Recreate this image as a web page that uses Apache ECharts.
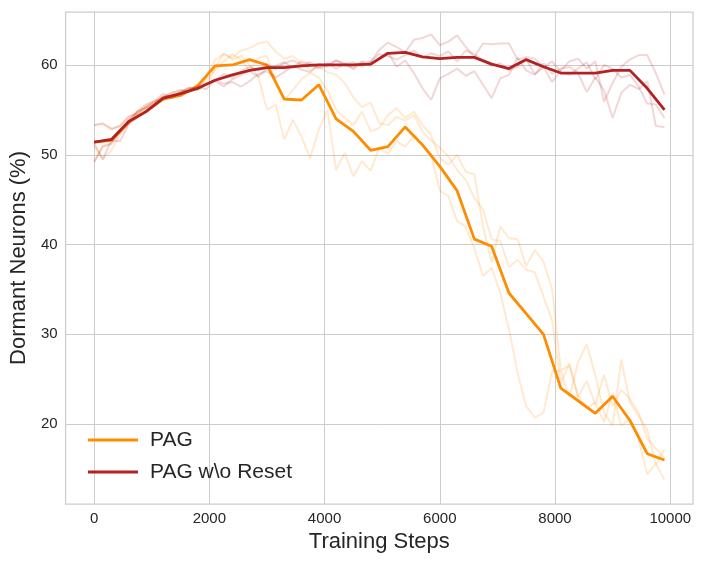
<!DOCTYPE html>
<html>
<head>
<meta charset="utf-8">
<script src="https://cdn.jsdelivr.net/npm/echarts@6/dist/echarts.min.js"></script>
<style>
  html, body { margin: 0; padding: 0; background: #fff; }
  #chart { width: 705px; height: 564px; }
</style>
</head>
<body>
<div id="chart"></div>
<script>
// steps of the averaged curves (every 300) and of the single runs (every 150)
var mainSteps = [];
for (var i = 0; i < 34; i++) mainSteps.push(i * 300);
var runSteps = [];
for (var j = 0; j < 67; j++) runSteps.push(j * 150);

var xTicks = [0, 2000, 4000, 6000, 8000, 10000];
var yTicks = [20, 30, 40, 50, 60];

// PAG (mean curve)
var pagMean = [51.4, 51.6, 53.6, 54.8, 56.2, 56.6, 57.7, 59.9, 60.0, 60.6,
  60.0, 56.2, 56.1, 57.8, 54.0, 52.6, 50.5, 50.9, 53.1, 51.1,
  48.7, 46.0, 40.6, 39.8, 34.6, 32.3, 30.0, 24.0, 22.6, 21.2,
  23.1, 20.4, 16.7, 16.0];

// PAG w\o Reset (mean curve)
var noResetMean = [51.4, 51.7, 53.7, 54.8, 56.3, 56.8, 57.4, 58.3, 58.9, 59.4,
  59.7, 59.7, 59.9, 60.0, 60.0, 60.0, 60.1, 61.3, 61.4, 60.9,
  60.7, 60.85, 60.85, 60.1, 59.6, 60.6, 59.8, 59.1, 59.1, 59.1,
  59.4, 59.4, 57.4, 55.0];

// PAG single runs
var pagRun1 = [53.3, 53.4, 52.8, 53.2, 54.3, 54.6, 55.3, 55.9, 56.5, 56.9,
  57.2, 57.0, 57.8, 58.6, 60.6, 61.2, 60.8, 61.6, 61.9, 62.4,
  62.6, 61.5, 60.7, 61.0, 60.2, 59.4, 59.8, 59.2, 58.9, 58.0,
  56.4, 55.3, 55.8, 53.5, 53.3, 54.2, 53.8, 54.4, 52.6, 51.6,
  50.8, 49.8, 48.3, 47.2, 45.2, 43.9, 40.6, 40.4, 37.5, 38.3,
  37.2, 36.9, 34.2, 31.5, 24.5, 26.8, 23.0, 24.8, 22.2, 25.5,
  22.0, 23.8, 22.8, 21.3, 18.4, 17.3, 16.2];
var pagRun2 = [49.2, 51.0, 51.3, 52.6, 53.8, 54.9, 55.4, 56.0, 56.3, 56.6,
  57.0, 57.4, 57.3, 57.9, 59.6, 61.3, 60.6, 61.0, 60.0, 58.7,
  55.0, 55.6, 51.7, 53.9, 52.0, 49.6, 52.8, 55.0, 48.3, 50.2,
  47.6, 49.3, 48.2, 50.8, 50.1, 51.5, 50.9, 52.2, 51.0, 50.0,
  46.0, 45.4, 42.6, 42.0, 39.6, 36.5, 37.4, 34.6, 30.6, 25.7,
  22.0, 20.7, 21.3, 25.9, 25.9, 23.0, 26.9, 28.9, 25.4, 21.3,
  19.8, 27.2, 22.4, 20.9, 19.4, 15.5, 17.2];
var pagRun3 = [51.0, 49.5, 50.5, 52.2, 53.5, 54.5, 55.2, 55.6, 56.4, 56.7,
  56.8, 57.3, 57.5, 58.4, 59.4, 60.4, 61.2, 60.6, 59.4, 60.8,
  61.0, 58.3, 56.1, 57.2, 58.4, 59.1, 58.6, 57.2, 55.0, 54.1,
  53.3, 54.8, 52.6, 53.0, 54.4, 55.2, 54.1, 54.8, 53.3, 52.2,
  49.6, 48.9, 50.0, 48.1, 47.8, 42.0, 38.0, 42.0, 40.7, 40.6,
  37.6, 39.4, 38.1, 35.0, 26.0, 26.5, 23.1, 21.8, 22.4, 20.2,
  23.5, 19.8, 20.6, 18.4, 14.4, 15.6, 13.8];

// PAG w\o Reset single runs
var noResetRun1 = [53.3, 53.5, 52.9, 53.2, 54.2, 54.6, 55.3, 55.9, 56.4, 56.9,
  57.2, 57.1, 57.6, 57.9, 58.2, 57.6, 58.4, 58.9, 59.3, 58.7,
  59.6, 59.9, 60.3, 59.7, 60.4, 60.1, 59.6, 60.0, 60.5, 60.0,
  59.7, 60.4, 60.3, 61.7, 62.5, 62.0, 61.4, 62.8, 63.0, 63.4,
  62.2, 62.6, 63.3, 62.0, 60.9, 62.4, 62.3, 62.4, 62.4, 60.6,
  60.9, 60.7, 59.8, 58.1, 59.4, 60.4, 60.7, 59.6, 60.4, 55.9,
  58.0, 59.8, 60.6, 61.1, 61.1, 59.1, 56.7];
var noResetRun2 = [51.3, 49.5, 51.6, 51.5, 53.4, 54.8, 55.6, 56.0, 56.8, 56.3,
  57.0, 57.5, 57.2, 57.9, 58.3, 59.0, 58.6, 59.3, 59.8, 59.4,
  60.1, 59.5, 60.2, 60.5, 60.0, 60.3, 59.8, 60.2, 59.6, 60.1,
  60.3, 59.8, 60.4, 61.2, 61.0, 60.6, 61.1, 61.6, 60.8, 61.3,
  61.0, 61.5, 60.4, 61.6, 61.2, 60.5, 59.9, 60.2, 59.4, 59.8,
  60.6, 59.0, 59.7, 60.4, 59.2, 58.9, 59.6, 60.3, 58.4, 60.0,
  59.6, 58.6, 58.9, 57.6, 55.7, 55.6, 54.1];
var noResetRun3 = [49.2, 50.9, 51.2, 52.5, 53.9, 54.8, 55.2, 55.7, 56.5, 56.6,
  56.9, 57.4, 57.5, 57.3, 58.4, 57.9, 58.1, 57.6, 58.2, 59.0,
  59.3, 58.6, 59.2, 59.9, 59.5, 59.2, 60.1, 59.8, 60.5, 60.2,
  59.5, 60.3, 60.0, 60.8, 61.4, 59.8, 60.5, 59.1, 57.4, 56.1,
  58.5, 59.0, 59.6, 58.8, 59.3, 57.8, 56.3, 58.5, 58.9, 60.8,
  59.4, 58.9, 60.2, 59.0, 59.6, 59.8, 59.1, 57.0, 58.6, 57.2,
  54.1, 56.9, 57.8, 57.3, 58.2, 53.2, 53.1];

var ORANGE = '#ff8c00';
var RED = '#b22222';

function pairs(xs, ys) {
  return ys.map(function (v, k) { return [xs[k], v]; });
}

function runSeries(ys, color) {
  return {
    type: 'line',
    data: pairs(runSteps, ys),
    symbol: 'none',
    silent: true,
    lineStyle: { color: color, width: 2, opacity: 0.18 },
    itemStyle: { color: color }
  };
}

function meanSeries(name, ys, color) {
  return {
    name: name,
    type: 'line',
    data: pairs(mainSteps, ys),
    symbol: 'none',
    lineStyle: { color: color, width: 2.8 },
    itemStyle: { color: color }
  };
}

var chart = echarts.init(document.getElementById('chart'));

var option = {
  animation: false,
  backgroundColor: '#ffffff',
  textStyle: { fontFamily: 'Liberation Sans, Arial, sans-serif' },
  grid: {
    left: 63, right: 12, top: 12, bottom: 60,
    show: true, borderColor: '#cccccc', borderWidth: 1.25
  },
  legend: {
    left: 83, top: 423,
    orient: 'vertical',
    icon: 'rect',
    itemWidth: 50, itemHeight: 3, itemGap: 8,
    data: ['PAG', 'PAG w\\o Reset'],
    textStyle: { fontSize: 21, color: '#262626', lineHeight: 24, padding: [0, 0, 0, 7] }
  },
  xAxis: {
    type: 'value',
    min: -495, max: 10395,
    name: 'Training Steps',
    nameLocation: 'middle',
    nameGap: 26,
    nameTextStyle: { fontSize: 22, color: '#262626' },
    axisLine: { show: false },
    axisTick: { show: false, customValues: xTicks },
    axisLabel: {
      customValues: xTicks, fontSize: 15, color: '#262626', margin: 7,
      formatter: function (v) { return String(v); }
    },
    splitLine: { show: true, lineStyle: { color: '#cccccc', width: 1 } }
  },
  yAxis: {
    type: 'value',
    min: 11.1, max: 65.9,
    name: 'Dormant Neurons (%)',
    nameLocation: 'middle',
    nameGap: 33,
    nameTextStyle: { fontSize: 22, color: '#262626' },
    axisLine: { show: false },
    axisTick: { show: false, customValues: yTicks },
    axisLabel: {
      customValues: yTicks, fontSize: 15, color: '#262626', margin: 8,
      formatter: function (v) { return String(v); }
    },
    splitLine: { show: true, lineStyle: { color: '#cccccc', width: 1 } }
  },
  series: [
    runSeries(pagRun1, ORANGE),
    runSeries(pagRun2, ORANGE),
    runSeries(pagRun3, ORANGE),
    meanSeries('PAG', pagMean, ORANGE),
    runSeries(noResetRun1, RED),
    runSeries(noResetRun2, RED),
    runSeries(noResetRun3, RED),
    meanSeries('PAG w\\o Reset', noResetMean, RED)
  ]
};

chart.setOption(option);
</script>
</body>
</html>
